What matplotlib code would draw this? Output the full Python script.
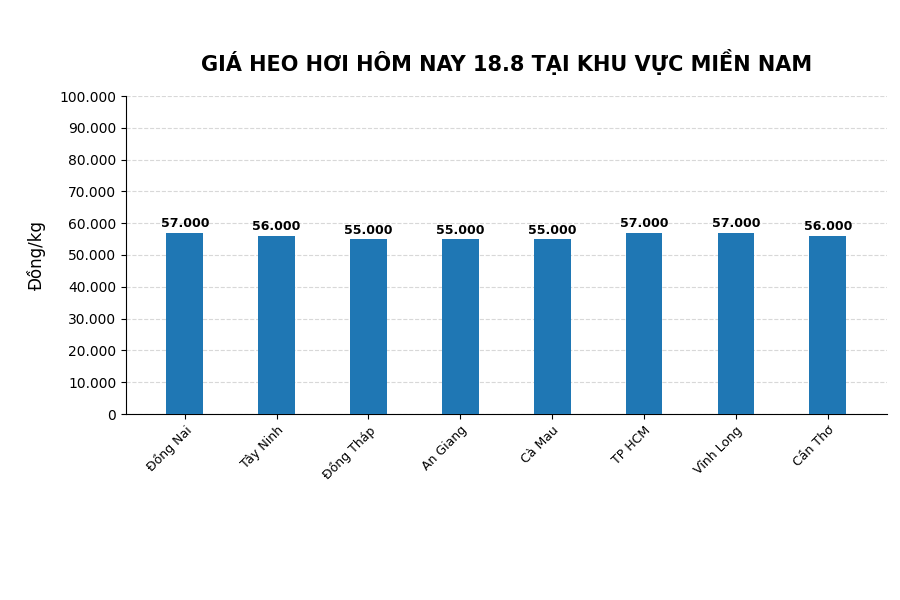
import matplotlib
matplotlib.use("Agg")
from matplotlib import pyplot as plt
from matplotlib.ticker import FuncFormatter

# du lieu
tinh = ["Đồng Nai", "Tây Ninh", "Đồng Tháp", "An Giang", "Cà Mau", "TP HCM", "Vĩnh Long", "Cần Thơ"]
gia = [57000, 56000, 55000, 55000, 55000, 57000, 57000, 56000]

def fmt(v, _=None):
    return f"{int(v):,}".replace(",", ".")

fig, ax = plt.subplots(figsize=(9, 6), dpi=100)
fig.subplots_adjust(left=0.14, right=0.985, top=0.84, bottom=0.31)

bars = ax.bar(tinh, gia, width=0.4, color="#1f77b4", zorder=3)
for b, v in zip(bars, gia):
    ax.text(b.get_x() + b.get_width() / 2, v + 800, fmt(v), ha="center", va="bottom",
            fontsize=9, fontweight="bold")

ax.set_xlim(-0.64, 7.64)
ax.set_ylim(0, 100000)
ax.set_yticks(range(0, 100001, 10000))
ax.yaxis.set_major_formatter(FuncFormatter(fmt))
ax.grid(axis="y", linestyle="--", color="#d8d8d8", zorder=0)
ax.spines["top"].set_visible(False)
ax.spines["right"].set_visible(False)
ax.set_ylabel("Đồng/kg", fontsize=12, labelpad=10)
plt.setp(ax.get_xticklabels(), rotation=45, ha="right", rotation_mode="anchor", fontsize=9)
ax.set_title("GIÁ HEO HƠI HÔM NAY 18.8 TẠI KHU VỰC MIỀN NAM", fontsize=15,
             fontweight="bold", pad=18)

fig.savefig("out.png")
